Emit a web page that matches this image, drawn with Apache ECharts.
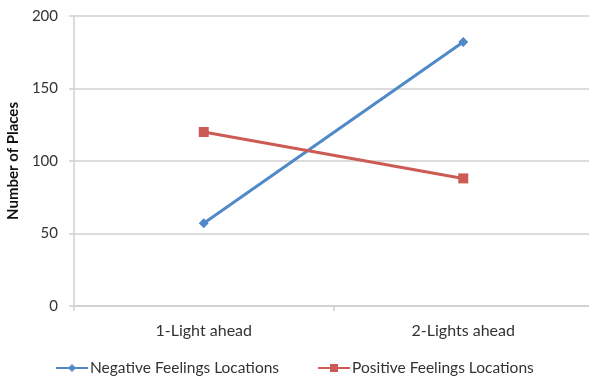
<!DOCTYPE html>
<html>
<head>
<meta charset="utf-8">
<script src="https://cdn.jsdelivr.net/npm/echarts@6/dist/echarts.min.js"></script>
<style>
  html, body { margin: 0; padding: 0; background: #fff; overflow: hidden; }
  #chart { width: 589px; height: 377px; }
</style>
</head>
<body>
<div id="chart"></div>
<script>
// Categories and series values
const categories = ['1-Light ahead', '2-Lights ahead'];
const negativeValues = [57, 182];
const positiveValues = [120, 88];
const seriesNames = ['Negative Feelings Locations', 'Positive Feelings Locations'];
const yTicks = { min: 0, max: 200, interval: 50 };

const FONT = 'Lato, "Open Sans", sans-serif';
const gridColor = '#d0d0d0';

const chart = echarts.init(document.getElementById('chart'), null, { renderer: 'canvas' });
chart.setOption({
  animation: false,
  backgroundColor: '#ffffff',
  textStyle: { fontFamily: FONT },
  grid: {
    left: 74, width: 519, top: 16, height: 290,
    containLabel: false,
    outerBoundsMode: 'none'
  },
  legend: {
    top: 355,
    left: 50,
    itemGap: 38,
    itemWidth: 32,
    itemHeight: 10,
    textStyle: { fontFamily: FONT, fontSize: 15.5, color: '#333', padding: [0, 0, 0, -3] },
    data: seriesNames
  },
  xAxis: {
    type: 'category',
    data: categories,
    boundaryGap: true,
    axisLine: { lineStyle: { color: gridColor, width: 1.5 } },
    axisTick: { show: true, length: 5, lineStyle: { color: gridColor, width: 1.5 } },
    axisLabel: { color: '#333', fontSize: 16, fontFamily: FONT, margin: 17 }
  },
  yAxis: {
    type: 'value',
    min: yTicks.min,
    max: yTicks.max,
    interval: yTicks.interval,
    name: 'Number of Places',
    nameLocation: 'middle',
    nameGap: 48,
    nameRotate: 90,
    nameTextStyle: { fontFamily: FONT, fontSize: 15, fontWeight: 'bold', color: '#111' },
    axisLine: { show: true, lineStyle: { color: gridColor, width: 1.5 } },
    axisTick: { show: true, length: 5, lineStyle: { color: gridColor, width: 1.5 } },
    axisLabel: { color: '#333', fontSize: 15, fontFamily: FONT, margin: 16 },
    splitLine: { show: true, lineStyle: { color: gridColor, width: 1.5 } }
  },
  series: [
    {
      name: seriesNames[0],
      type: 'line',
      data: negativeValues,
      symbol: 'diamond',
      symbolSize: 10,
      color: '#5089c8',
      lineStyle: { width: 3, color: '#5089c8' },
      itemStyle: { color: '#5089c8' }
    },
    {
      name: seriesNames[1],
      type: 'line',
      data: positiveValues,
      symbol: 'rect',
      symbolSize: 10,
      color: '#cd5b55',
      lineStyle: { width: 3, color: '#cd5b55' },
      itemStyle: { color: '#cd5b55' }
    }
  ]
});
</script>
</body>
</html>
